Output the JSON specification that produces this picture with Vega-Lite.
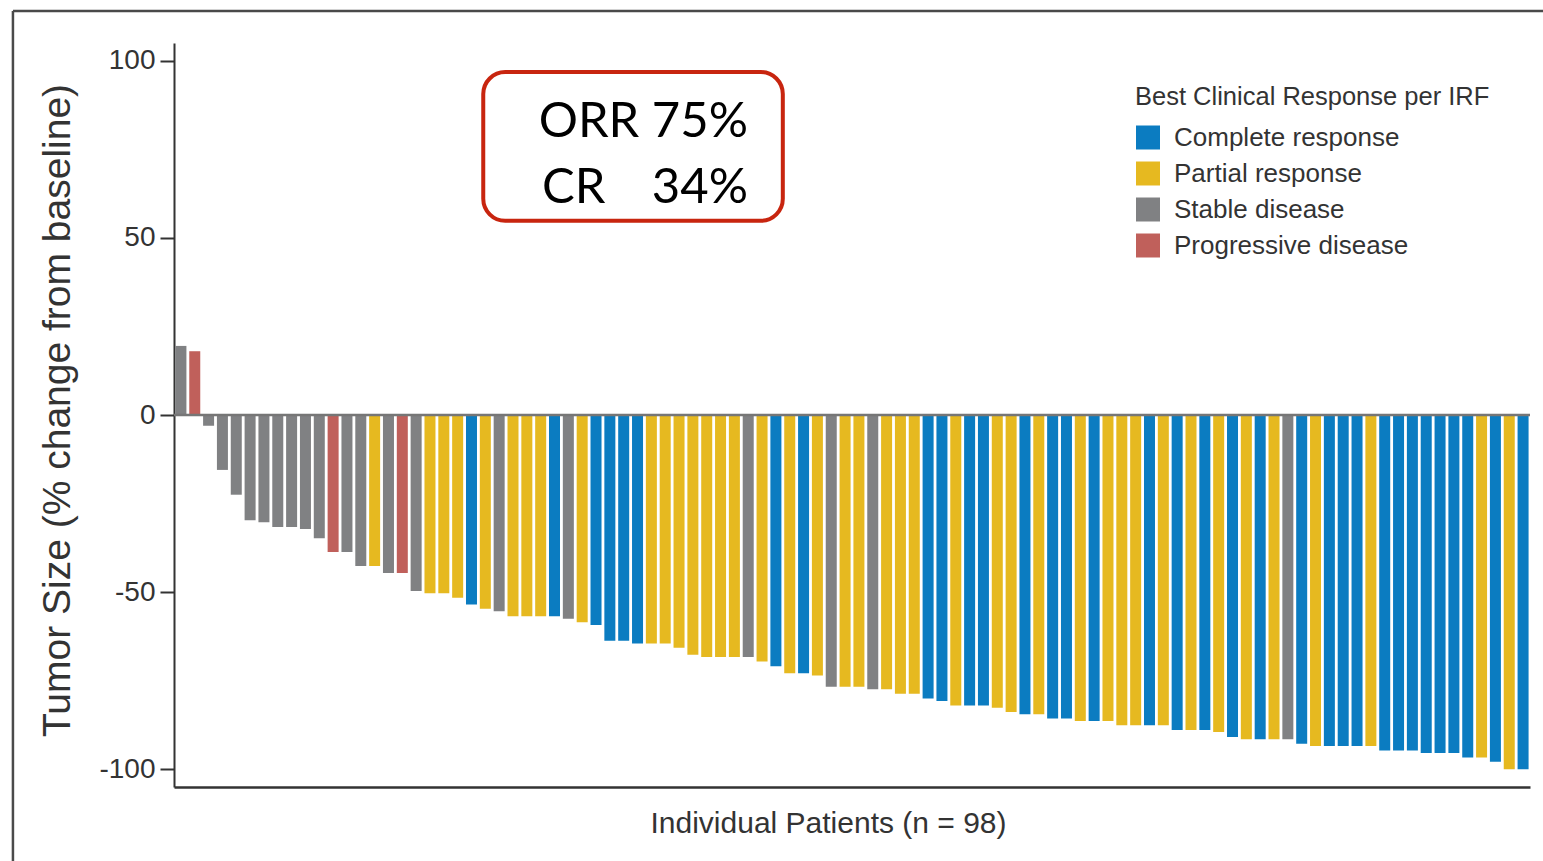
{
  "$schema": "https://vega.github.io/schema/vega-lite/v6.json",
  "width": 1356,
  "height": 744,
  "autosize": {"type": "none"},
  "padding": {"left": 174, "top": 43, "right": 13, "bottom": 74},
  "background": "white",
  "config": {"view": {"stroke": null}, "font": "Liberation Sans"},
  "data": {"values": [
    {"patient": 1, "change": 19.5, "response": "Stable disease"},
    {"patient": 2, "change": 18, "response": "Progressive disease"},
    {"patient": 3, "change": -3, "response": "Stable disease"},
    {"patient": 4, "change": -15.5, "response": "Stable disease"},
    {"patient": 5, "change": -22.5, "response": "Stable disease"},
    {"patient": 6, "change": -29.7, "response": "Stable disease"},
    {"patient": 7, "change": -30.3, "response": "Stable disease"},
    {"patient": 8, "change": -31.6, "response": "Stable disease"},
    {"patient": 9, "change": -31.6, "response": "Stable disease"},
    {"patient": 10, "change": -32.2, "response": "Stable disease"},
    {"patient": 11, "change": -34.8, "response": "Stable disease"},
    {"patient": 12, "change": -38.7, "response": "Progressive disease"},
    {"patient": 13, "change": -38.7, "response": "Stable disease"},
    {"patient": 14, "change": -42.6, "response": "Stable disease"},
    {"patient": 15, "change": -42.6, "response": "Partial response"},
    {"patient": 16, "change": -44.6, "response": "Stable disease"},
    {"patient": 17, "change": -44.6, "response": "Progressive disease"},
    {"patient": 18, "change": -49.7, "response": "Stable disease"},
    {"patient": 19, "change": -50.3, "response": "Partial response"},
    {"patient": 20, "change": -50.3, "response": "Partial response"},
    {"patient": 21, "change": -51.6, "response": "Partial response"},
    {"patient": 22, "change": -53.5, "response": "Complete response"},
    {"patient": 23, "change": -54.7, "response": "Partial response"},
    {"patient": 24, "change": -55.4, "response": "Stable disease"},
    {"patient": 25, "change": -56.8, "response": "Partial response"},
    {"patient": 26, "change": -56.8, "response": "Partial response"},
    {"patient": 27, "change": -56.8, "response": "Partial response"},
    {"patient": 28, "change": -56.8, "response": "Complete response"},
    {"patient": 29, "change": -57.5, "response": "Stable disease"},
    {"patient": 30, "change": -58.5, "response": "Partial response"},
    {"patient": 31, "change": -59.3, "response": "Complete response"},
    {"patient": 32, "change": -63.7, "response": "Complete response"},
    {"patient": 33, "change": -63.7, "response": "Complete response"},
    {"patient": 34, "change": -64.5, "response": "Complete response"},
    {"patient": 35, "change": -64.5, "response": "Partial response"},
    {"patient": 36, "change": -64.5, "response": "Partial response"},
    {"patient": 37, "change": -65.7, "response": "Partial response"},
    {"patient": 38, "change": -67.7, "response": "Partial response"},
    {"patient": 39, "change": -68.3, "response": "Partial response"},
    {"patient": 40, "change": -68.3, "response": "Partial response"},
    {"patient": 41, "change": -68.3, "response": "Partial response"},
    {"patient": 42, "change": -68.3, "response": "Stable disease"},
    {"patient": 43, "change": -69.6, "response": "Partial response"},
    {"patient": 44, "change": -70.9, "response": "Complete response"},
    {"patient": 45, "change": -72.9, "response": "Partial response"},
    {"patient": 46, "change": -72.9, "response": "Complete response"},
    {"patient": 47, "change": -73.5, "response": "Partial response"},
    {"patient": 48, "change": -76.7, "response": "Stable disease"},
    {"patient": 49, "change": -76.7, "response": "Partial response"},
    {"patient": 50, "change": -76.7, "response": "Partial response"},
    {"patient": 51, "change": -77.4, "response": "Stable disease"},
    {"patient": 52, "change": -77.4, "response": "Partial response"},
    {"patient": 53, "change": -78.7, "response": "Partial response"},
    {"patient": 54, "change": -78.7, "response": "Partial response"},
    {"patient": 55, "change": -80, "response": "Complete response"},
    {"patient": 56, "change": -80.7, "response": "Complete response"},
    {"patient": 57, "change": -82, "response": "Partial response"},
    {"patient": 58, "change": -82, "response": "Complete response"},
    {"patient": 59, "change": -82, "response": "Complete response"},
    {"patient": 60, "change": -82.6, "response": "Partial response"},
    {"patient": 61, "change": -83.8, "response": "Partial response"},
    {"patient": 62, "change": -84.5, "response": "Complete response"},
    {"patient": 63, "change": -84.5, "response": "Partial response"},
    {"patient": 64, "change": -85.7, "response": "Complete response"},
    {"patient": 65, "change": -85.7, "response": "Complete response"},
    {"patient": 66, "change": -86.4, "response": "Partial response"},
    {"patient": 67, "change": -86.4, "response": "Complete response"},
    {"patient": 68, "change": -86.4, "response": "Partial response"},
    {"patient": 69, "change": -87.6, "response": "Partial response"},
    {"patient": 70, "change": -87.6, "response": "Partial response"},
    {"patient": 71, "change": -87.6, "response": "Complete response"},
    {"patient": 72, "change": -87.6, "response": "Partial response"},
    {"patient": 73, "change": -88.9, "response": "Complete response"},
    {"patient": 74, "change": -88.9, "response": "Partial response"},
    {"patient": 75, "change": -88.9, "response": "Complete response"},
    {"patient": 76, "change": -89.5, "response": "Partial response"},
    {"patient": 77, "change": -90.9, "response": "Complete response"},
    {"patient": 78, "change": -91.5, "response": "Partial response"},
    {"patient": 79, "change": -91.5, "response": "Complete response"},
    {"patient": 80, "change": -91.5, "response": "Partial response"},
    {"patient": 81, "change": -91.5, "response": "Stable disease"},
    {"patient": 82, "change": -92.8, "response": "Complete response"},
    {"patient": 83, "change": -93.4, "response": "Partial response"},
    {"patient": 84, "change": -93.4, "response": "Complete response"},
    {"patient": 85, "change": -93.4, "response": "Complete response"},
    {"patient": 86, "change": -93.4, "response": "Complete response"},
    {"patient": 87, "change": -93.4, "response": "Partial response"},
    {"patient": 88, "change": -94.7, "response": "Complete response"},
    {"patient": 89, "change": -94.7, "response": "Complete response"},
    {"patient": 90, "change": -94.7, "response": "Complete response"},
    {"patient": 91, "change": -95.4, "response": "Complete response"},
    {"patient": 92, "change": -95.4, "response": "Complete response"},
    {"patient": 93, "change": -95.4, "response": "Complete response"},
    {"patient": 94, "change": -96.7, "response": "Complete response"},
    {"patient": 95, "change": -96.7, "response": "Partial response"},
    {"patient": 96, "change": -97.9, "response": "Complete response"},
    {"patient": 97, "change": -100, "response": "Partial response"},
    {"patient": 98, "change": -100, "response": "Complete response"}
  ]},
  "layer": [
    {
      "data": {"values": [{}]},
      "mark": {"type": "rule", "color": "#4a4a4a", "strokeWidth": 2.5},
      "encoding": {
        "x": {"datum": -11.14, "type": "quantitative", "title": "Individual Patients (n = 98)"},
        "y": {"datum": 114, "type": "quantitative", "title": "Tumor Size (% change from baseline)"},
        "y2": {"datum": -160}
      }
    },
    {
      "data": {"values": [{}]},
      "mark": {"type": "rule", "color": "#4a4a4a", "strokeWidth": 2.5},
      "encoding": {
        "x": {"datum": -11.14, "type": "quantitative", "title": "Individual Patients (n = 98)"},
        "x2": {"datum": 130},
        "y": {"datum": 114, "type": "quantitative", "title": "Tumor Size (% change from baseline)"}
      }
    },
    {
      "mark": {"type": "bar", "orient": "vertical", "width": 11},
      "encoding": {
        "x": {
          "field": "patient", "type": "quantitative",
          "scale": {"domain": [0.5, 98.5], "nice": false, "zero": false, "padding": 0},
          "title": "Individual Patients (n = 98)",
          "axis": {
            "domain": true, "domainColor": "#333333", "domainWidth": 2.5,
            "ticks": false, "labels": false, "grid": false,
            "titleFontSize": 30, "titleFontWeight": "normal", "titleColor": "#333333",
            "titlePadding": 21, "titleX": 654
          }
        },
        "y": {
          "field": "change", "type": "quantitative",
          "scale": {"domain": [-105, 105], "nice": false, "padding": 0},
          "title": "Tumor Size (% change from baseline)",
          "axis": {
            "values": [-100, -50, 0, 50, 100], "grid": false,
            "domainColor": "#333333", "domainWidth": 2,
            "tickSize": 14, "tickWidth": 2, "tickColor": "#333333",
            "labelFontSize": 28, "labelColor": "#333333", "labelPadding": 5,
            "labelExpr": "'' + datum.value",
            "titleFontSize": 39, "titleFontWeight": "normal", "titleColor": "#333333",
            "titlePadding": 21, "titleY": 367
          }
        },
        "color": {
          "field": "response", "type": "nominal",
          "scale": {
            "domain": ["Complete response", "Partial response", "Stable disease", "Progressive disease"],
            "range": ["#0b7cc1", "#e6b920", "#808183", "#c0605b"]
          },
          "legend": {
            "orient": "none", "legendX": 961, "legendY": 42, "padding": 0,
            "title": "Best Clinical Response per IRF",
            "titleFontSize": 25.5, "titleFontWeight": "normal", "titleColor": "#333333",
            "titlePadding": 14, "titleLimit": 600,
            "labelFontSize": 26, "labelColor": "#333333", "labelOffset": 13, "labelLimit": 600,
            "symbolType": "square", "symbolSize": 576, "symbolStrokeWidth": 0, "symbolOpacity": 1,
            "rowPadding": 10
          }
        }
      }
    },
    {
      "data": {"values": [{}]},
      "mark": {"type": "rule", "color": "#767676", "strokeWidth": 2.5},
      "encoding": {
        "y": {"datum": 0, "type": "quantitative", "title": "Tumor Size (% change from baseline)"}
      }
    },
    {
      "data": {"values": [{}]},
      "mark": {"type": "rect", "fill": null, "fillOpacity": 0, "stroke": "#c8250f", "strokeWidth": 4, "cornerRadius": 22},
      "encoding": {
        "x": {"datum": 22.85, "type": "quantitative", "title": "Individual Patients (n = 98)"},
        "x2": {"datum": 44.5},
        "y": {"datum": 96.8, "type": "quantitative", "title": "Tumor Size (% change from baseline)"},
        "y2": {"datum": 54.8}
      }
    },
    {
      "data": {"values": [{"label": "ORR 75%", "px": 41.98, "py": 78.55}, {"label": "34%", "px": 41.98, "py": 59.9}]},
      "mark": {"type": "text", "align": "right", "baseline": "alphabetic", "font": "Lato", "fontSize": 49, "color": "#000000"},
      "encoding": {
        "x": {"field": "px", "type": "quantitative", "title": "Individual Patients (n = 98)"},
        "y": {"field": "py", "type": "quantitative", "title": "Tumor Size (% change from baseline)"},
        "text": {"field": "label"}
      }
    },
    {
      "data": {"values": [{"label": "CR", "px": 27.1, "py": 59.9}]},
      "mark": {"type": "text", "align": "left", "baseline": "alphabetic", "font": "Lato", "fontSize": 49, "color": "#000000"},
      "encoding": {
        "x": {"field": "px", "type": "quantitative", "title": "Individual Patients (n = 98)"},
        "y": {"field": "py", "type": "quantitative", "title": "Tumor Size (% change from baseline)"},
        "text": {"field": "label"}
      }
    }
  ]
}
